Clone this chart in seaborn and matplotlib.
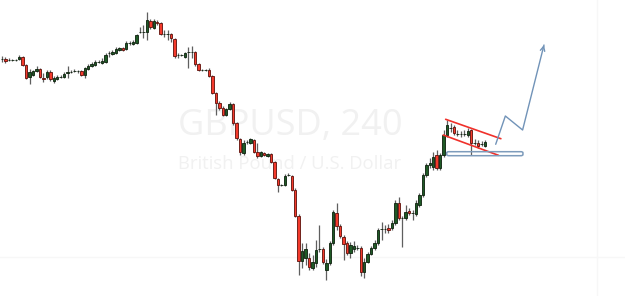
import numpy as np
import pandas as pd
import matplotlib
matplotlib.use("Agg")
import matplotlib.pyplot as plt
import seaborn as sns
from matplotlib.patches import FancyBboxPatch

# Candle values (chart level units: 0 = top of the view, larger = lower price)
opens = [59,59,60,60,60,59,57,65,77,75,71,69,78,77,72,81,79,77,77,73,72,71,71,71,75,69,
         66,65,62,63,62,53,54,53,50,48,49,43,44,43,32,32,32,21,28,22,23,34,34,34,39,
         55,55,57,52,52,52,64,70,70,70,76,93,103,108,115,109,104,123,139,153,142,143,
         140,152,156,153,156,154,162,179,185,185,175,176,190,216,261,258,258,268,263,249,249,270,263,243,
         213,226,237,243,253,249,248,248,272,262,254,248,243,229,229,228,228,223,203,218,218,211,213,214,
         205,195,175,165,167,155,168,155,135,128,127,134,134,134,135,130,143,143,144,146]
closes = [59,61,60,60,60,57,65,78,72,71,69,77,79,72,79,78,77,77,74,72,72,71,71,75,68,66,
          64,62,62,61,55,53,52,49,48,50,43,43,42,35,32,32,20,27,21,23,34,34,34,38,56,
          55,55,53,52,52,64,70,70,70,76,93,103,108,115,109,104,123,138,152,143,142,139,
          152,156,152,155,154,162,178,185,185,176,175,190,216,261,251,249,267,262,250,249,262,263,243,212,
          226,236,244,253,245,246,248,272,262,254,248,243,230,229,229,230,223,203,218,218,212,213,213,203,
          195,175,165,163,157,168,155,135,125,128,133,134,134,134,131,143,143,146,144,142]
highs = [56,57,58,59,59,55,56,64,69,70,66,68,73,70,70,76,75,75,72,66,70,69,70,70,67,64,
         62,60,60,58,53,51,50,47,47,47,41,41,40,34,27,25,12,19,19,20,22,30,30,33,38,
         53,54,52,47,46,51,63,69,69,68,75,92,101,106,108,102,103,122,138,140,140,138,
         139,143,151,152,153,153,161,178,184,174,173,175,188,214,243,243,253,255,240,225,247,259,241,210,
         203,224,235,241,242,241,245,246,258,252,246,240,228,222,225,224,220,200,197,216,205,208,210,200,
         193,173,163,158,152,150,153,130,120,123,125,130,131,130,128,129,139,140,141,140]
lows = [62,63,61,61,61,60,66,79,84,76,72,78,82,79,81,83,80,78,78,78,73,72,73,76,78,70,
        67,66,63,64,63,57,55,54,51,51,50,45,45,44,33,38,40,29,29,25,35,37,40,42,58,
        58,56,58,68,58,66,71,71,71,77,94,115,110,116,116,110,125,140,155,155,144,144,
        153,158,157,156,157,163,179,192,186,186,176,191,217,275,268,265,270,270,267,252,264,280,265,245,
        230,238,260,255,258,252,250,276,278,263,255,250,245,240,233,233,230,225,220,247,220,215,220,216,
        207,197,177,168,170,170,170,157,137,132,135,136,137,136,137,155,145,148,146,147]

# Analysis drawings (candle index, level)
flag_upper = [(128.6, 119.3), (144.6, 138.7)]
flag_lower = [(127.9, 135.0), (143.9, 155.3)]
box_x = [128.9, 151.0]
box_level = [151.7, 155.7]
path_idx = [143.1, 145.9, 150.9, 157.1]
path_level = [144.3, 116.0, 130.0, 45.0]

title = "GBPUSD, 240"
subtitle = "British Pound / U.S. Dollar"


def to_price(v):
    return 1.3200 - np.asarray(v, dtype=float) * 0.0005


df = pd.DataFrame({
    "idx": np.arange(len(opens)),
    "open": to_price(opens),
    "close": to_price(closes),
    "high": to_price(highs),
    "low": to_price(lows),
})
df["up"] = df["close"] >= df["open"]

sns.set_theme(style="white")
fig = plt.figure(figsize=(6.25, 2.96), dpi=100)
ax = fig.add_axes([0, 0, 1, 1])
ax.set_facecolor("white")

# faint grid lines
ax.axhline(to_price(256.5), color="#f7f7f7", lw=1, zorder=0)
ax.axvline((597 - 2) / 3.45, color="#f7f7f7", lw=1, zorder=0)

# watermark
ax.text(0.464, 0.574, title, transform=ax.transAxes, ha="center", va="center",
        fontsize=26, color="#f1f1f1", family="Open Sans", zorder=0)
ax.text(0.463, 0.447, subtitle, transform=ax.transAxes, ha="center", va="center",
        fontsize=13.3, color="#f1f1f1", family="Open Sans", zorder=0)

# wicks
ax.vlines(df["idx"], df["low"], df["high"], color="#5f5f5f", lw=0.9, zorder=2)

# bodies
up = df[df["up"]]
dn = df[~df["up"]]
w = 0.72
ax.bar(up["idx"], (up["close"] - up["open"]).clip(lower=0.00015), bottom=up["open"],
       width=w, color="#1f5a26", edgecolor="#0c1f0c", linewidth=0.6, zorder=3)
ax.bar(dn["idx"], (dn["open"] - dn["close"]).clip(lower=0.00015), bottom=dn["close"],
       width=w, color="#f43a2c", edgecolor="#5c0f0a", linewidth=0.6, zorder=3)

# flag lines
for seg in (flag_upper, flag_lower):
    xs = [p[0] for p in seg]
    ys = to_price([p[1] for p in seg])
    ax.plot(xs, ys, color="#f0302a", lw=1.2, zorder=4)

# support box
b0, b1 = to_price(box_level[1]), to_price(box_level[0])
box = FancyBboxPatch((box_x[0], b0), box_x[1] - box_x[0], b1 - b0,
                     boxstyle="round,pad=0,rounding_size=0.6", fill=False,
                     edgecolor="#7d9bbb", lw=1.1, zorder=4, mutation_aspect=0.001)
ax.add_patch(box)

# projected path
path_df = pd.DataFrame({"idx": path_idx, "price": to_price(path_level)})
sns.lineplot(data=path_df, x="idx", y="price", sort=False, color="#7193b8", lw=1.0,
             ax=ax, zorder=4)
ax.annotate("", xy=(path_idx[-1], to_price(path_level[-1])),
            xytext=(path_idx[-2] + 0.97 * (path_idx[-1] - path_idx[-2]),
                    to_price(path_level[-2] + 0.97 * (path_level[-1] - path_level[-2]))),
            arrowprops=dict(arrowstyle="->", color="#7193b8", lw=1.0, mutation_scale=8), zorder=5)

ax.set_xlim(-2 / 3.45, 623 / 3.45)
ax.set_ylim(to_price(296), to_price(0))
ax.set_xlabel("")
ax.set_ylabel("")
ax.set_xticks([])
ax.set_yticks([])
for s in ax.spines.values():
    s.set_visible(False)

fig.savefig("out.png", dpi=100, facecolor="white")
